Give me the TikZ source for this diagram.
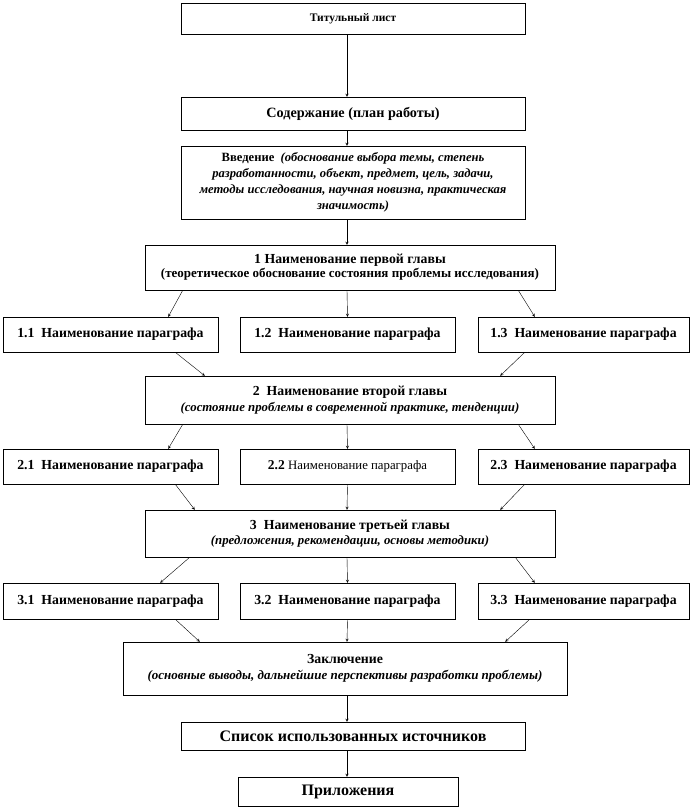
\documentclass[tikz,border=0pt]{standalone}
\usepackage{fontspec}
\setmainfont{Liberation Serif}
\usetikzlibrary{shadows}

\tikzset{
  box/.style={draw, thin, fill=white, inner sep=0pt, align=center,
    drop shadow={shadow xshift=1.2pt, shadow yshift=-1.2pt, fill=black!45, opacity=1}},
  arr/.style={-stealth, thin}
}
\newcommand{\hdfont}{\fontsize{13.8}{16}\bfseries\selectfont}
\newcommand{\subfont}{\fontsize{12.8}{14}\bfseries\itshape\selectfont}

\begin{document}
\begin{tikzpicture}[x=1pt, y=-1pt]
	\useasboundingbox (0,0) rectangle (693,808);

	% titul, soderzhanie, vvedenie
	\node[box, minimum width=344pt, minimum height=31pt] (tit) at (353,18.5)
		{\fontsize{11.5}{13}\bfseries\selectfont Титульный лист};
	\node[box, minimum width=344pt, minimum height=33pt] (sod) at (353,113.5)
		{\fontsize{14.2}{16}\bfseries\selectfont Содержание (план работы)};
	\node[box, minimum width=344pt, minimum height=73pt,
		font={\fontsize{12.6}{16}\bfseries\itshape\selectfont}] (vved) at (353,182.5)
		{{\upshape Введение}\ \ (обоснование выбора темы, степень\\
		 разработанности, объект, предмет, цель, задачи,\\
		 методы исследования, научная новизна, практическая\\
		 значимость)};

	% glava 1
	\node[box, minimum width=410pt, minimum height=45pt] (g1) at (350,267.5)
		{\hdfont 1 Наименование первой главы\\[1pt]
		 \fontsize{13}{14}\bfseries\selectfont (теоретическое обоснование состояния проблемы исследования)};
	\node[box, minimum width=215pt, minimum height=35pt] (p11) at (110.5,334.5) {\hdfont 1.1\ \ Наименование параграфа};
	\node[box, minimum width=215pt, minimum height=35pt] (p12) at (347.5,334.5) {\hdfont 1.2\ \ Наименование параграфа};
	\node[box, minimum width=211pt, minimum height=35pt] (p13) at (583.5,334.5) {\hdfont 1.3\ \ Наименование параграфа};

	% glava 2
	\node[box, minimum width=410pt, minimum height=48pt] (g2) at (350,400)
		{\hdfont 2\ \ Наименование второй главы\\[3pt]
		 \subfont (состояние проблемы в современной практике, тенденции)};
	\node[box, minimum width=215pt, minimum height=35pt] (p21) at (110.5,466.5) {\hdfont 2.1\ \ Наименование параграфа};
	\node[box, minimum width=215pt, minimum height=35pt] (p22) at (347.5,466.5)
		{\fontsize{13.5}{16}\bfseries\selectfont 2.2 {\fontsize{12.8}{14}\mdseries\selectfont Наименование параграфа}};
	\node[box, minimum width=211pt, minimum height=35pt] (p23) at (583.5,466.5) {\hdfont 2.3\ \ Наименование параграфа};

	% glava 3
	\node[box, minimum width=410pt, minimum height=47pt] (g3) at (350,533.5)
		{\hdfont 3\ \ Наименование третьей главы\\[3pt]
		 \subfont (предложения, рекомендации, основы методики)};
	\node[box, minimum width=215pt, minimum height=36pt] (p31) at (110.5,601) {\hdfont 3.1\ \ Наименование параграфа};
	\node[box, minimum width=215pt, minimum height=36pt] (p32) at (347.5,601) {\hdfont 3.2\ \ Наименование параграфа};
	\node[box, minimum width=211pt, minimum height=36pt] (p33) at (583.5,601) {\hdfont 3.3\ \ Наименование параграфа};

	% zakluchenie, spisok, prilozhenia
	\node[box, minimum width=444pt, minimum height=53pt] (zak) at (345,668.5)
		{\hdfont Заключение\\[4pt]
		 \fontsize{13}{14}\bfseries\itshape\selectfont (основные выводы, дальнейшие перспективы разработки проблемы)};
	\node[box, minimum width=344pt, minimum height=28pt] (spis) at (353,736)
		{\fontsize{16}{18}\bfseries\selectfont Список использованных источников};
	\node[box, minimum width=220pt, minimum height=29pt] (pril) at (348,791.5)
		{\fontsize{16}{18}\bfseries\selectfont Приложения};

	% strelki
	\draw[arr] ([xshift=-6pt]tit.south) -- ([xshift=-6pt]sod.north);
	\draw[arr] ([xshift=-6pt]sod.south) -- ([xshift=-6pt]vved.north);
	\draw[arr] ([xshift=-6pt]vved.south) -- ([xshift=-3pt]g1.north);

	\draw[arr] ([xshift=38pt]g1.south west) -- ([xshift=-50pt]p11.north east);
	\draw[arr] ([xshift=-3pt]g1.south) -- (p12.north);
	\draw[arr] ([xshift=-37pt]g1.south east) -- ([xshift=57pt]p13.north west);
	\draw[arr] ([xshift=-43pt]p11.south east) -- ([xshift=60pt]g2.north west);
	\draw[arr] ([xshift=47pt]p13.south west) -- ([xshift=-55pt]g2.north east);

	\draw[arr] ([xshift=38pt]g2.south west) -- ([xshift=-50pt]p21.north east);
	\draw[arr] ([xshift=-3pt]g2.south) -- (p22.north);
	\draw[arr] ([xshift=-37pt]g2.south east) -- ([xshift=57pt]p23.north west);
	\draw[arr] ([xshift=-43pt]p21.south east) -- ([xshift=50pt]g3.north west);
	\draw[arr] (p22.south) -- ([xshift=-3pt]g3.north);
	\draw[arr] ([xshift=47pt]p23.south west) -- ([xshift=-55pt]g3.north east);

	\draw[arr] ([xshift=45pt]g3.south west) -- ([xshift=-58pt]p31.north east);
	\draw[arr] ([xshift=-3pt]g3.south) -- (p32.north);
	\draw[arr] ([xshift=-40pt]g3.south east) -- ([xshift=57pt]p33.north west);
	\draw[arr] ([xshift=-43pt]p31.south east) -- ([xshift=77pt]zak.north west);
	\draw[arr] (p32.south) -- ([xshift=2pt]zak.north);
	\draw[arr] ([xshift=52pt]p33.south west) -- ([xshift=-62pt]zak.north east);

	\draw[arr] ([xshift=2pt]zak.south) -- ([xshift=-6pt]spis.north);
	\draw[arr] ([xshift=-6pt]spis.south) -- ([xshift=-1pt]pril.north);
\end{tikzpicture}
\end{document}
